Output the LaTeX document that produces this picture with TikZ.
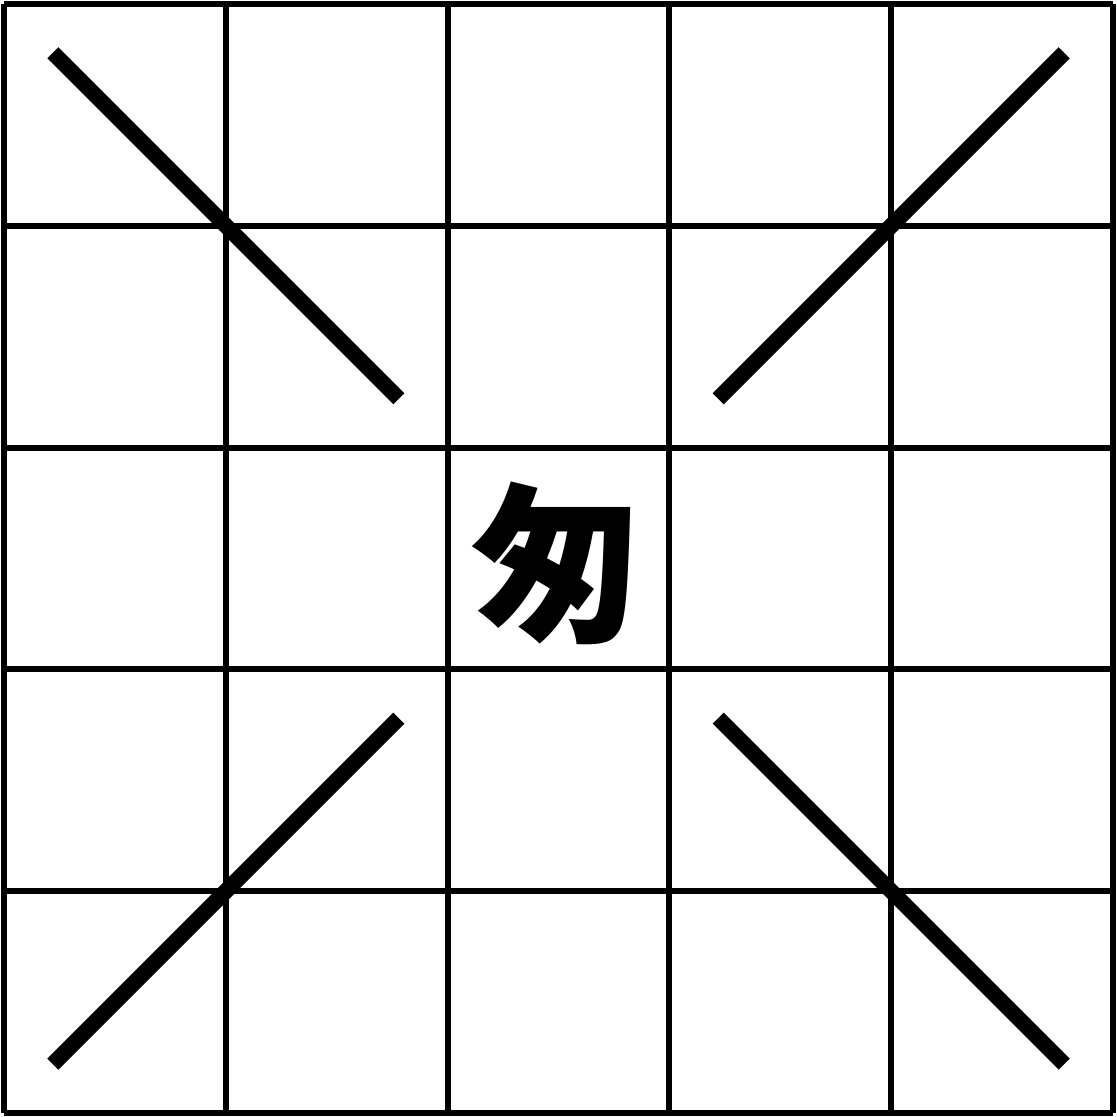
\documentclass[tikz,border=0pt]{standalone}
\usepackage{fontspec}
\newfontfamily\cjk{Noto Sans CJK SC}

\begin{document}
\begin{tikzpicture}[x=1cm, y=1cm, grid/.style={line width=0.75pt}, mark line/.style={line width=2pt}]
	\useasboundingbox (-0.018,-0.018) rectangle (5.018,5.018);
	\fill[white] (-0.018,-0.018) rectangle (5.018,5.018);
	\foreach \i in {0,...,5} {\draw[grid] (\i,0) -- (\i,5); \draw[grid] (0,\i) -- (5,\i);}
	\foreach \cx/\cy/\s in {1/4/-1, 4/4/1, 1/1/1, 4/1/-1} {\draw[mark line] (\cx-0.78,\cy-0.78*\s) -- (\cx+0.78,\cy+0.78*\s);}
	\node (char) at (2.49,2.48) {\cjk\bfseries\fontsize{22pt}{22pt}\selectfont 匆};
\end{tikzpicture}
\end{document}
